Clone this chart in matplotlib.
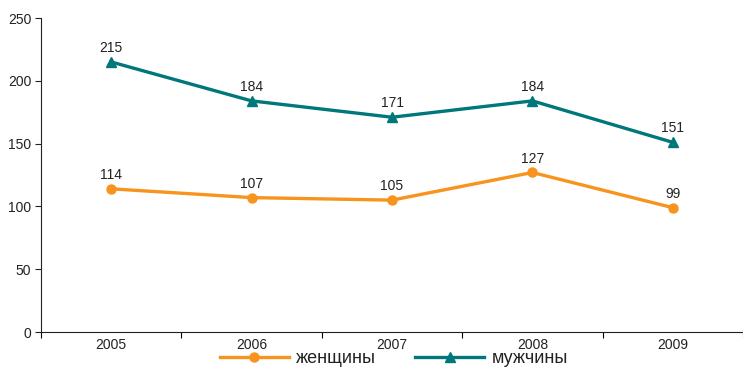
import matplotlib.pyplot as plt

years = ['2005', '2006', '2007', '2008', '2009']
women = [114, 107, 105, 127, 99]
men = [215, 184, 171, 184, 151]

orange = '#F7941D'
teal = '#00777B'

plt.rcParams['font.family'] = ['Liberation Sans', 'DejaVu Sans']

fig = plt.figure(figsize=(7.43, 3.68), dpi=100)
ax = fig.add_axes([41 / 743, 36 / 368, 1 - 41 / 743, 314 / 368])

xs = list(range(len(years)))
ax.plot(xs, women, color=orange, lw=2.4, marker='o', ms=6.5, label='женщины')
ax.plot(xs, men, color=teal, lw=2.4, marker='^', ms=7, label='мужчины')

for series in (women, men):
    for x, v in zip(xs, series):
        ax.annotate(str(v), (x, v), xytext=(0, 5), textcoords='offset points',
                    ha='center', va='bottom', fontsize=10, color='#222222')

ax.set_ylim(0, 250)
ax.set_yticks(range(0, 251, 50))
ax.set_xlim(-0.5, 4.45)
ax.set_xticks(xs)
ax.set_xticklabels(years)
ax.set_xticks([i - 0.5 for i in range(len(years) + 1)], minor=True)
ax.tick_params(axis='x', which='major', length=0, pad=4)
ax.tick_params(axis='x', which='minor', length=4, width=0.8, direction='out')
ax.tick_params(axis='y', length=4, width=0.8, direction='out', pad=3)
ax.tick_params(labelsize=10, colors='#222222')
for s in ['top', 'right']:
    ax.spines[s].set_visible(False)
for s in ['left', 'bottom']:
    ax.spines[s].set_linewidth(0.8)
    ax.spines[s].set_color('#222222')

fig.legend(loc='center', bbox_to_anchor=(0.53, 0.025), ncol=2, frameon=False,
           fontsize=13, handlelength=3.8, columnspacing=2.2, handletextpad=0.4,
           labelcolor='#222222')

fig.savefig('out.png', dpi=100)
